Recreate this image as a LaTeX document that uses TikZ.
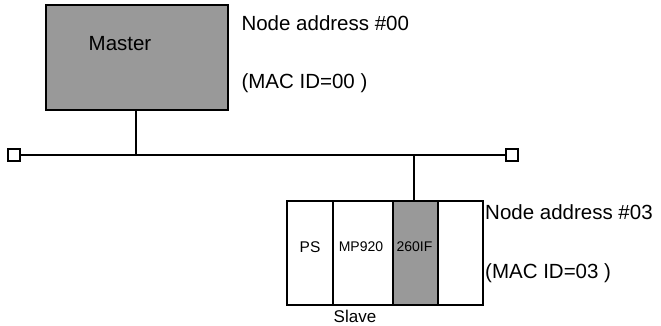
\documentclass[tikz,border=0pt]{standalone}
\usepackage{fontspec}
\setmainfont{Liberation Sans}
\begin{document}
\begin{tikzpicture}[x=1pt,y=-1pt,
  box/.style={draw=black,line width=2.2pt,inner sep=0pt,anchor=north west},
  gray box/.style={box,fill=gray!80},
  white box/.style={box,fill=white},
  term/.style={draw=black,line width=1.8pt,fill=white,minimum size=12pt,inner sep=0pt},
  wire/.style={line width=2.2pt},
  big/.style={font=\fontsize{20.5}{24}\selectfont},
  small/.style={font=\fontsize{14}{16}\selectfont}]
\useasboundingbox (0,0) rectangle (661,325);
% master
\node[gray box,minimum width=182pt,minimum height=105pt] (master) at (45,4) {};
\node[big] (mlabel) at (120,44) {Master};
\node[big,anchor=west] (na0) at (238,23) {Node address \#00};
\node[big,anchor=west] (mac0) at (238,83) {(MAC ID=00 )};
% bus
\node[term] (tl) at (14,155) {};
\node[term] (tr) at (512,155) {};
\draw[wire] (tl.east) -- (tr.west);
\coordinate (mtap) at (136,155);
\coordinate (stap) at (414,155);
\draw[wire] (master.south -| mtap) -- (mtap);
% slave
\node[white box,minimum width=46pt,minimum height=104pt] (ps) at (286,200) {};
\node[white box,minimum width=60pt,minimum height=104pt] (mp) at (332,200) {};
\node[gray box,minimum width=45pt,minimum height=104pt] (if) at (392,200) {};
\node[white box,minimum width=45pt,minimum height=104pt] (sp) at (437,200) {};
\draw[wire] (stap) -- (stap |- if.north);
\node[font=\fontsize{15.5}{18}\selectfont] (pst) at (310,247) {PS};
\node[small,inner sep=0pt] (mpt) at (361,247) {MP920};
\node[small,inner sep=0pt] (ift) at (414.5,247) {260IF};
\node[font=\fontsize{17}{20}\selectfont] (slave) at (355,316) {Slave};
\node[big,anchor=west,inner sep=1pt] (na3) at (484,212) {Node address \#03};
\node[big,anchor=west,inner sep=1pt] (mac3) at (484,273) {(MAC ID=03 )};
\end{tikzpicture}
\end{document}
